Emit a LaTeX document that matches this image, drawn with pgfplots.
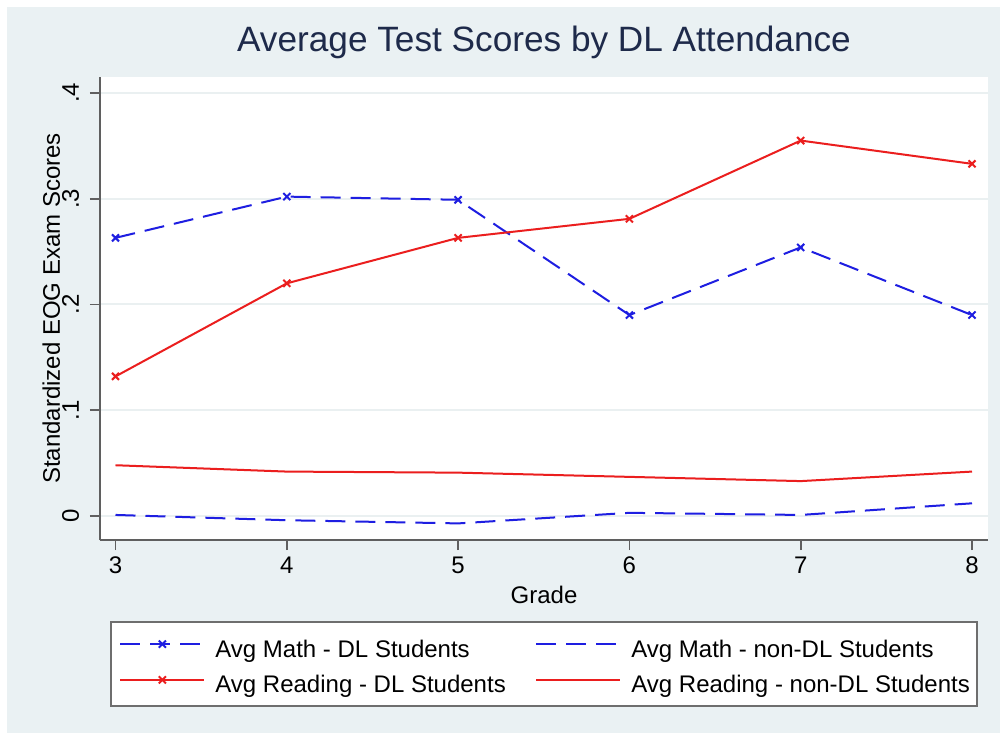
\documentclass[border=0pt]{standalone}
\usepackage{pgfplots}
\pgfplotsset{compat=1.18}
\usepackage{fontspec}
\setmainfont{Liberation Sans}
\definecolor{bgc}{RGB}{234,241,243}
\definecolor{titlec}{RGB}{30,42,74}
\definecolor{sblue}{RGB}{30,30,225}
\definecolor{sred}{RGB}{235,30,30}
\definecolor{gridc}{RGB}{234,240,241}
\definecolor{axc}{RGB}{95,95,95}
\definecolor{legc}{RGB}{110,110,110}
\begin{document}
\begin{tikzpicture}
\fill[white] (-50pt,-98pt) rectangle (451.5pt,270pt);
\fill[bgc] (-46.5pt,-96.5pt) rectangle (450pt,266.5pt);
\begin{axis}[
  at={(0,0)}, anchor=south west,
  scale only axis, width=444pt, height=231.5pt,
  xmin=2.9095, xmax=8.0934, ymin=-0.0227, ymax=0.4151,
  axis background/.style={fill=white},
  axis x line*=bottom, axis y line*=left,
  axis line style={axc, line width=1pt, -},
  xtick={3,4,5,6,7,8}, xticklabels={3,4,5,6,7,8},
  ytick={0,0.1,0.2,0.3,0.4}, yticklabels={0,.1,.2,.3,.4},
  tick align=outside, major tick length=5pt,
  tick style={axc, line width=0.8pt},
  ymajorgrids, grid style={gridc, line width=1pt},
  ticklabel style={font=\fontsize{12}{14}\selectfont},
  yticklabel style={xshift=-5.5pt, rotate=90, anchor=base},
  title={Average Test Scores by DL Attendance},
  title style={font=\fontsize{17.6}{20}\selectfont, color=titlec, at={(axis description cs:0.5,1)}, anchor=base, yshift=7pt},
  xlabel={Grade},
  xlabel style={font=\fontsize{12}{14}\selectfont, at={(axis description cs:0.5,0)}, anchor=base, yshift=-31.5pt},
  ylabel={Standardized EOG Exam Scores},
  ylabel style={font=\fontsize{12}{14}\selectfont, at={(axis description cs:-0.04505,0.5)}, anchor=base},
  legend columns=2,
  legend cell align=left,
  legend style={draw=legc, line width=0.9pt, fill=white,
    at={(axis description cs:0.5,-0.2678)}, anchor=center,
    inner xsep=4.35pt, inner ysep=3.5pt, row sep=0.85pt,
    font=\fontsize{12}{14}\selectfont,
    nodes={inner sep=2pt, text height=12pt, text depth=1pt},
    /tikz/every odd column/.append style={column sep=3pt}},
  legend image code/.code={
    \draw[mark repeat=2, mark phase=2, #1] plot coordinates {(0pt,1pt) (21pt,1pt) (42pt,1pt)};
  },
]
\addplot[sblue, line width=1pt, dash pattern=on 10pt off 5pt, mark=x, mark size=2.5pt, mark options={solid, line width=1pt}]
  coordinates {(3,0.263) (4,0.302) (5,0.299) (6,0.190) (7,0.254) (8,0.190)};
\addlegendentry{\makebox[158pt][l]{Avg Math - DL Students}}
\addplot[sblue, line width=1pt, dash pattern=on 10pt off 5pt, no marks]
  coordinates {(3,0.001) (4,-0.004) (5,-0.007) (6,0.003) (7,0.001) (8,0.012)};
\addlegendentry{\makebox[166.6pt][l]{Avg Math - non-DL Students}}
\addplot[sred, line width=1pt, mark=x, mark size=2.5pt, mark options={solid, line width=1pt}]
  coordinates {(3,0.132) (4,0.220) (5,0.263) (6,0.281) (7,0.355) (8,0.333)};
\addlegendentry{\makebox[158pt][l]{Avg Reading - DL Students}}
\addplot[sred, line width=1pt, no marks]
  coordinates {(3,0.048) (4,0.042) (5,0.041) (6,0.037) (7,0.033) (8,0.042)};
\addlegendentry{\makebox[166.6pt][l]{Avg Reading - non-DL Students}}
\end{axis}
\end{tikzpicture}
\end{document}
